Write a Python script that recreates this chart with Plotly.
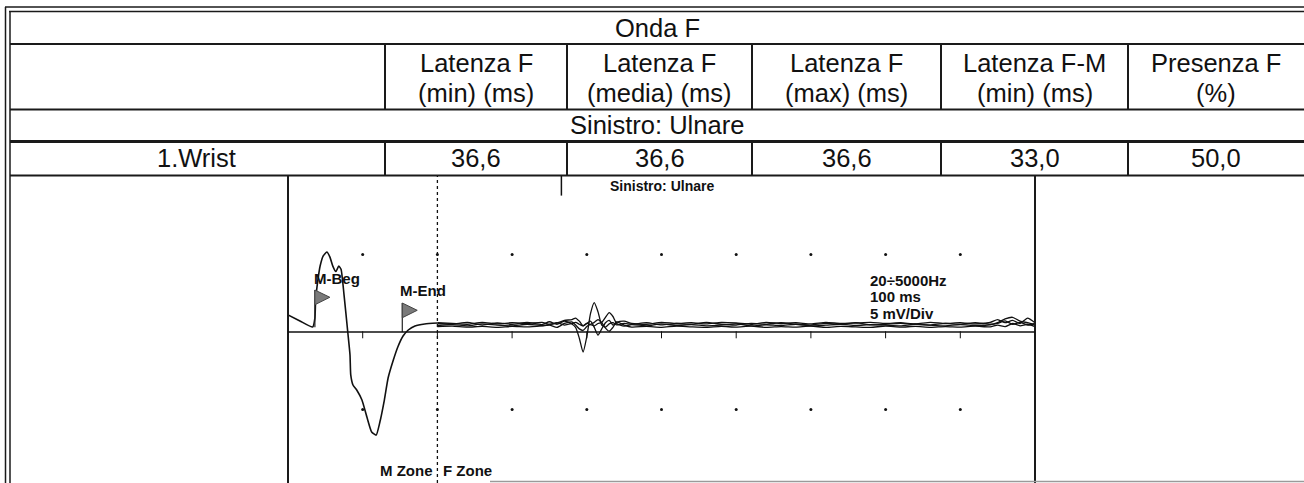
import plotly.graph_objects as go

# ---------------- data ----------------
title_text = "Onda F"
col_line1 = ["Latenza F", "Latenza F", "Latenza F", "Latenza F-M", "Presenza F"]
col_line2 = ["(min) (ms)", "(media) (ms)", "(max) (ms)", "(min) (ms)", "(%)"]
section_text = "Sinistro: Ulnare"
row_label = "1.Wrist"
row_values = [36.6, 36.6, 36.6, 33.0, 50.0]

# M-wave (ms, mV)
m_time = [0.0, 1.6, 3.3, 3.6, 3.7, 4.0, 4.3, 4.7, 5.2, 5.6, 6.0, 6.4, 6.8, 7.1, 7.5, 8.0,
          8.3, 8.4, 8.7, 9.2, 9.9, 10.6, 11.2, 11.8, 12.3, 12.9, 13.4, 14.1, 14.7, 15.4,
          16.1, 17.0, 18.3, 20.0]
m_amp = [1.10, 0.71, 0.32, 0.90, 2.06, 3.35, 4.26, 4.90, 5.16, 4.85, 4.25, 3.90, 4.25, 4.05, 2.40, 0.0,
         -1.48, -2.77, -3.42, -3.74, -4.39, -5.55, -6.45, -6.65, -5.81, -4.39, -2.97, -1.81, -0.97, -0.26,
         0.13, 0.39, 0.52, 0.58]

# F-zone traces (ms, mV)
f_time = [20, 22, 24, 26, 28, 30, 32, 34, 35, 36, 37, 38, 38.5, 39, 39.5, 40, 40.5, 41, 41.5, 42,
          42.5, 43, 43.5, 44, 45, 46, 48, 50, 52, 54, 56, 58, 60, 62, 64, 66, 68, 70, 72, 74,
          76, 78, 80, 82, 84, 86, 88, 90, 92, 94, 95, 96, 97, 98, 99, 100]
f_trace1 = [0.55, 0.50, 0.62, 0.45, 0.58, 0.50, 0.62, 0.48, 0.66, 0.50,
            0.70, 0.52, 0.30, -0.40, -1.30, -0.30, 1.20, 1.90, 1.30, 0.45,
            0.32, 0.52, 0.60, 0.46, 0.56, 0.50, 0.60, 0.46, 0.55, 0.50,
            0.62, 0.50, 0.45, 0.56, 0.50, 0.60, 0.50, 0.45, 0.56, 0.50,
            0.60, 0.46, 0.50, 0.56, 0.50, 0.45, 0.56, 0.50, 0.60, 0.50,
            0.56, 0.72, 0.50, 0.62, 0.45, 0.55]
f_trace2 = [0.42, 0.48, 0.40, 0.52, 0.44, 0.40, 0.50, 0.42, 0.48, 0.60,
            0.45, 0.55, 0.62, 0.50, 0.40, 0.55, 0.48, 0.40, 0.55, 0.62,
            0.95, 1.25, 1.00, 0.55, 0.38, 0.48, 0.40, 0.52, 0.42, 0.48,
            0.40, 0.44, 0.52, 0.40, 0.46, 0.42, 0.50, 0.40, 0.44, 0.50,
            0.42, 0.48, 0.44, 0.40, 0.50, 0.44, 0.40, 0.48, 0.42, 0.46,
            0.60, 0.85, 0.95, 0.70, 0.60, 0.48]
f_trace3 = [0.60, 0.55, 0.50, 0.62, 0.52, 0.60, 0.55, 0.62, 0.50, 0.58,
            0.75, 0.80, 0.90, 0.70, 0.40, 0.55, 0.70, 0.30, -0.20, 0.20,
            0.60, 0.75, 0.45, 0.62, 0.70, 0.55, 0.50, 0.62, 0.55, 0.60,
            0.52, 0.62, 0.58, 0.50, 0.62, 0.55, 0.60, 0.52, 0.62, 0.55,
            0.58, 0.62, 0.55, 0.60, 0.52, 0.62, 0.55, 0.60, 0.52, 0.62,
            0.80, 0.60, 0.75, 0.55, 0.90, 0.60]
f_trace4 = [0.35, 0.38, 0.32, 0.36, 0.30, 0.36, 0.33, 0.40, 0.45, 0.30,
            0.55, 0.65, 0.45, 0.20, 0.10, 0.35, 0.50, 0.62, 0.80, 0.60,
            0.25, 0.05, 0.30, 0.65, 0.45, 0.32, 0.36, 0.30, 0.38, 0.33,
            0.30, 0.36, 0.32, 0.38, 0.30, 0.35, 0.32, 0.38, 0.30, 0.36,
            0.33, 0.30, 0.38, 0.32, 0.36, 0.30, 0.35, 0.32, 0.38, 0.33,
            0.45, 0.35, 0.55, 0.40, 0.50, 0.35]

m_beg_ms = 3.6
m_end_ms = 15.3
zone_split_ms = 20
sweep_ms = 100
mv_per_div = 5
filter_text = "20÷5000Hz"
sweep_text = "100 ms"
gain_text = "5 mV/Div"

# ---------------- geometry helpers ----------------
W, H = 1304, 483
def px(x):
    return x / W
def py(y):
    return 1 - y / H

CH_L, CH_R, CH_T = 288, 1035, 176
BASE_PX = 332
PX_PER_MV = 15.5
y_lo = -(H - BASE_PX) / PX_PER_MV
y_hi = (BASE_PX - CH_T) / PX_PER_MV

TABLE_FAMILY = "Liberation Sans, Arial, sans-serif"
BOLD_FONT = "Liberation Sans, Arial, sans-serif"
LINE_COL = "#1a1a1a"

fig = go.Figure()

# F traces
for tr in [f_trace4, f_trace2, f_trace3, f_trace1]:
    fig.add_trace(go.Scatter(x=f_time, y=tr, mode="lines",
                             line=dict(color="#111", width=1.3, shape="spline", smoothing=0.6),
                             hoverinfo="skip"))
# M-wave
fig.add_trace(go.Scatter(x=m_time, y=m_amp, mode="lines",
                         line=dict(color="#111", width=1.6, shape="spline", smoothing=0.5),
                         hoverinfo="skip"))

# grid dots
div_x = [sweep_ms / 10 * i for i in range(1, 10)]
dot_x = div_x + div_x
dot_y = [mv_per_div] * 9 + [-mv_per_div] * 9
fig.add_trace(go.Scatter(x=dot_x, y=dot_y, mode="markers",
                         marker=dict(color="#111", size=3), hoverinfo="skip"))
# baseline ticks
fig.add_trace(go.Scatter(x=div_x, y=[-0.18] * 9, mode="markers",
                         marker=dict(symbol="line-ns", size=5, line=dict(color="#111", width=1)),
                         hoverinfo="skip"))

# flags
def flag(t, y_top, y_bot):
    fig.add_trace(go.Scatter(x=[t, t], y=[y_bot, y_top], mode="lines",
                             line=dict(color="#222", width=1.2), hoverinfo="skip"))
    fig.add_trace(go.Scatter(x=[t, t, t + 2.0, t], y=[y_top, y_top - 0.95, y_top - 0.47, y_top],
                             mode="lines", fill="toself", fillcolor="#7a7a7a",
                             line=dict(color="#444", width=1), hoverinfo="skip"))

flag(m_beg_ms, 2.71, 0.3)
flag(m_end_ms, 1.87, 0.0)

shapes = []
def hline(y, x0, x1, w=2, col=LINE_COL):
    shapes.append(dict(type="line", xref="paper", yref="paper", x0=px(x0), x1=px(x1),
                       y0=py(y), y1=py(y), line=dict(color=col, width=w)))
def vline(x, y0, y1, w=2, col=LINE_COL):
    shapes.append(dict(type="line", xref="paper", yref="paper", x0=px(x), x1=px(x),
                       y0=py(y0), y1=py(y1), line=dict(color=col, width=w)))

# table frame
hline(7, 5, 1304, 1.5)
hline(11.5, 9, 1304, 1.5)
vline(5.5, 7, 483, 1.5)
vline(10, 11.5, 483, 1.5)
hline(44, 10, 1304, 2)
hline(109.5, 10, 1304, 2)
hline(141.5, 10, 1304, 3)
hline(175.5, 10, 1304, 2)
col_edges = [385, 567, 752, 941, 1128, 1304]
for xe in col_edges[:-1]:
    vline(xe, 44, 109.5, 2)
    vline(xe, 141.5, 175.5, 2)
# chart box sides
vline(CH_L, 175.5, 483, 2)
vline(CH_R, 175.5, 483, 2)
hline(481.5, 490, 1304, 1.5, "#9a9a9a")

# chart internal lines (data coords)
shapes.append(dict(type="line", xref="x", yref="y", x0=0, x1=sweep_ms, y0=0, y1=0,
                   line=dict(color="#111", width=1.5)))
shapes.append(dict(type="line", xref="x", yref="y", x0=zone_split_ms, x1=zone_split_ms,
                   y0=y_lo, y1=y_hi, line=dict(color="#111", width=1.3, dash="3px,3px")))
shapes.append(dict(type="line", xref="x", yref="y", x0=row_values[0], x1=row_values[0],
                   y0=y_hi, y1=8.8, line=dict(color="#111", width=1.5)))

ann = []
def tbl_text(x, y, s, size=25.5):
    ann.append(dict(xref="paper", yref="paper", x=px(x), y=py(y), text=s, showarrow=False,
                    xanchor="center", yanchor="middle",
                    font=dict(family=TABLE_FAMILY, size=size, color="#111")))

tbl_text(657, 28, title_text)
for i in range(5):
    cx = (col_edges[i] + col_edges[i + 1]) / 2
    tbl_text(cx, 63, col_line1[i])
    tbl_text(cx, 93, col_line2[i])
    tbl_text(cx, 158, f"{row_values[i]:.1f}".replace(".", ","))
tbl_text(657, 125, section_text)
tbl_text(197, 158, row_label)

def chart_text(x, y, s, xa="left", size=15, ya="middle"):
    ann.append(dict(xref="x", yref="y", x=x, y=y, text=f"<b>{s}</b>", showarrow=False,
                    xanchor=xa, yanchor=ya,
                    font=dict(family=BOLD_FONT, size=size, color="#111")))

chart_text(sweep_ms / 2, 9.45, section_text, xa="center", size=14)
chart_text(m_beg_ms + 2.9, 3.48, "M-Beg", xa="center")
chart_text(m_end_ms + 2.8, 2.71, "M-End", xa="center")
chart_text(77.7, 3.35, filter_text)
chart_text(77.7, 2.28, sweep_text)
chart_text(77.7, 1.22, gain_text)
chart_text(zone_split_ms - 0.3, -9.62, "M Zone", xa="right", ya="bottom")
chart_text(zone_split_ms + 0.5, -9.62, "F Zone", xa="left", ya="bottom")

fig.update_layout(
    width=W, height=H, margin=dict(l=0, r=0, t=0, b=0),
    paper_bgcolor="white", plot_bgcolor="rgba(0,0,0,0)", showlegend=False,
    xaxis=dict(domain=[px(CH_L), px(CH_R)], range=[0, sweep_ms], visible=False, fixedrange=True),
    yaxis=dict(domain=[0, py(CH_T)], range=[y_lo, y_hi], visible=False, fixedrange=True),
    shapes=shapes, annotations=ann,
)

fig.write_html("out.html",
               config={"displayModeBar": False},
               post_script="document.body.style.margin='0px';document.body.style.overflow='hidden';")
